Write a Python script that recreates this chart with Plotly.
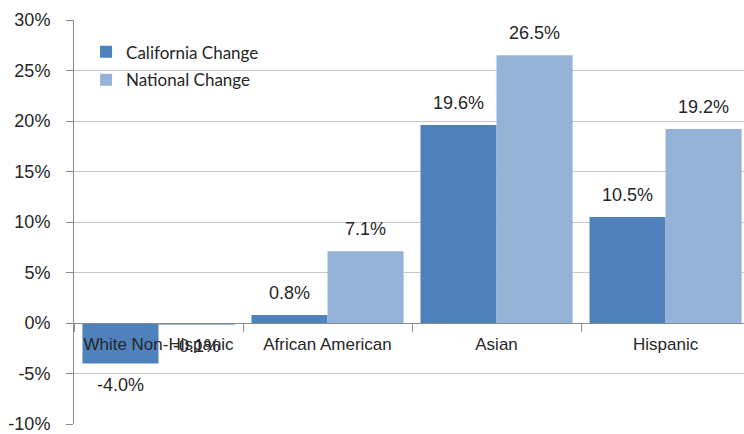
import plotly.graph_objects as go

categories = ["White Non-Hispanic", "African American", "Asian", "Hispanic"]
california_change = [-4.0, 0.8, 19.6, 10.5]
national_change = [-0.1, 7.1, 26.5, 19.2]
y_ticks = [-10, -5, 0, 5, 10, 15, 20, 25, 30]
y_tick_labels = [f"{t}%" for t in y_ticks]

CA_COLOR = "#4F81BD"
NAT_COLOR = "#95B3D7"
TEXT_COLOR = "#262626"
AX_FONT = "Liberation Sans, Arial, sans-serif"
LEG_FONT = dict(family="Lato, Carlito, Calibri, sans-serif", size=17, color=TEXT_COLOR)

fig = go.Figure()
fig.add_trace(go.Bar(x=categories, y=california_change, name="California Change",
                     marker=dict(color=CA_COLOR, line=dict(width=0)),
                     legend="legend", showlegend=True))
fig.add_trace(go.Bar(x=categories, y=national_change, name="National Change",
                     marker=dict(color=NAT_COLOR, line=dict(width=0)),
                     legend="legend2", showlegend=True))

bargap = 0.1
half = (1 - bargap) / 4
annotations = []
for i, (c, n) in enumerate(zip(california_change, national_change)):
    for off, v in ((-half, c), (half, n)):
        annotations.append(dict(
            x=i + off, y=v, xref="x", yref="y", text=f"{v:.1f}%", showarrow=False,
            yanchor="middle", xanchor="center", yshift=22 if v >= 0 else -22,
            font=dict(family=AX_FONT, size=18, color=TEXT_COLOR)))

fig.update_layout(
    width=744, height=434,
    margin=dict(l=74, r=0, t=20, b=8),
    paper_bgcolor="white", plot_bgcolor="white",
    showlegend=True,
    barmode="group", bargap=bargap, bargroupgap=0,
    annotations=annotations,
    legend=dict(x=0.018, y=0.92, xanchor="left", yanchor="middle",
                bgcolor="rgba(0,0,0,0)", font=LEG_FONT, visible=True),
    legend2=dict(x=0.018, y=0.851, xanchor="left", yanchor="middle",
                 bgcolor="rgba(0,0,0,0)", font=LEG_FONT, visible=True),
    xaxis=dict(
        type="category", range=[-0.5, 3.464],
        anchor="free", position=0.25,
        showline=True, linecolor="#8C8C8C", linewidth=1,
        ticks="outside", tickson="boundaries", ticklen=8, tickcolor="#8C8C8C",
        ticklabelstandoff=6,
        showgrid=False, zeroline=False,
        tickfont=dict(family=AX_FONT, size=17, color=TEXT_COLOR),
    ),
    yaxis=dict(
        range=[-10, 30], tickvals=y_ticks, ticktext=y_tick_labels,
        showgrid=True, gridcolor="#C8C8C8", gridwidth=1,
        zeroline=False,
        showline=True, linecolor="#8C8C8C", linewidth=1,
        ticks="outside", ticklen=7, tickcolor="#8C8C8C",
        ticklabelstandoff=12, ticklabeloverflow="allow",
        tickfont=dict(family=AX_FONT, size=18, color=TEXT_COLOR),
    ),
)

fig.write_html("out.html", config={"displayModeBar": False},
               post_script="document.body.style.margin='0';document.body.style.overflow='hidden';")
